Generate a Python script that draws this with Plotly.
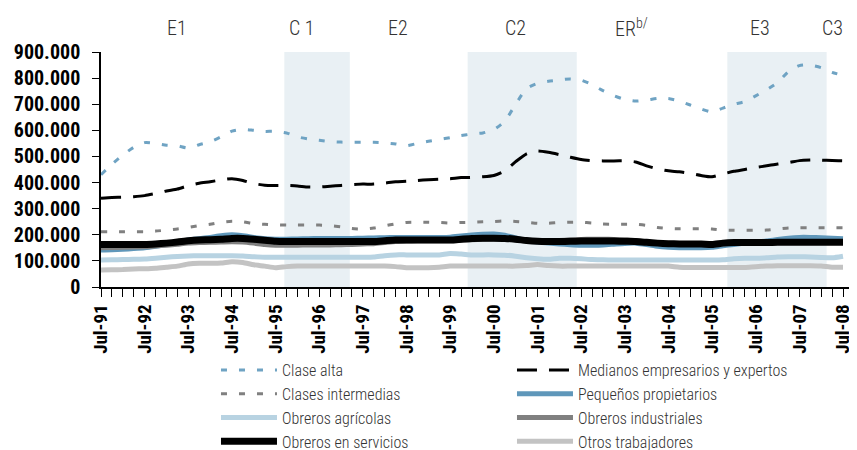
import plotly.graph_objects as go

# Quarterly observations, Jul-91 .. Jul-08 (thousands of persons)
clase_alta = [430, 470, 505, 535, 553, 550, 543, 541, 532, 545, 556, 575, 597, 604, 600, 596,
              596, 590, 575, 567, 562, 557, 555, 554, 554, 554, 552, 548, 541, 550, 558, 565,
              572, 580, 586, 590, 603, 635, 700, 760, 780, 788, 793, 797, 792, 775, 752, 733,
              718, 712, 716, 722, 722, 712, 697, 682, 670, 685, 700, 710, 732, 755, 783, 825,
              848, 850, 840, 822, 810]
medianos = [340, 343, 344, 346, 350, 358, 368, 375, 388, 397, 403, 410, 415, 408, 396, 390,
            389, 389, 387, 383, 383, 386, 389, 392, 394, 394, 398, 403, 405, 408, 411, 413,
            415, 419, 420, 422, 427, 445, 480, 510, 521, 516, 507, 497, 488, 484, 483, 483,
            483, 479, 464, 452, 445, 441, 435, 427, 422, 433, 443, 450, 458, 464, 471, 476,
            484, 486, 486, 484, 483]
intermedias = [212, 212, 212, 212, 212, 214, 218, 222, 228, 235, 240, 248, 252, 250, 243, 240,
               238, 237, 237, 237, 237, 235, 230, 224, 222, 226, 234, 242, 247, 248, 248, 247,
               245, 247, 248, 250, 251, 253, 251, 248, 244, 244, 247, 248, 248, 245, 241, 240,
               240, 240, 236, 228, 224, 223, 223, 223, 222, 218, 217, 217, 217, 218, 222, 226,
               227, 227, 227, 227, 227]
pequenos = [142, 143, 145, 147, 150, 156, 163, 172, 180, 185, 190, 196, 200, 196, 190, 185,
            183, 183, 184, 185, 186, 186, 186, 186, 187, 188, 189, 190, 190, 190, 190, 190,
            191, 195, 199, 202, 203, 198, 188, 178, 172, 168, 165, 162, 160, 160, 161, 164,
            167, 168, 163, 156, 152, 150, 150, 150, 152, 158, 163, 168, 172, 176, 182, 187,
            190, 190, 189, 187, 185]
agricolas = [103, 104, 105, 106, 107, 110, 114, 117, 119, 120, 120, 120, 120, 119, 116, 114,
             114, 114, 114, 114, 114, 114, 114, 114, 114, 115, 120, 123, 123, 123, 123, 123,
             128, 126, 123, 123, 123, 122, 118, 112, 108, 106, 110, 110, 108, 105, 104, 103,
             103, 103, 103, 103, 103, 103, 103, 103, 103, 104, 108, 110, 110, 112, 115, 116,
             116, 115, 113, 112, 118]
industriales = [150, 151, 152, 153, 154, 157, 160, 164, 168, 170, 171, 172, 173, 172, 168, 163,
                160, 160, 160, 161, 161, 161, 162, 163, 165, 166, 170, 174, 176, 177, 177, 177,
                177, 179, 181, 183, 184, 183, 180, 177, 176, 177, 178, 180, 182, 183, 183, 182,
                180, 178, 172, 167, 164, 163, 163, 163, 161, 166, 168, 169, 169, 169, 170, 170,
                170, 170, 170, 170, 170]
servicios = [163, 163, 163, 163, 163, 165, 168, 172, 177, 180, 181, 183, 186, 186, 183, 179,
             175, 174, 174, 174, 174, 174, 174, 174, 174, 174, 177, 180, 180, 180, 180, 180,
             180, 183, 186, 187, 187, 186, 183, 178, 175, 174, 174, 175, 176, 176, 176, 176,
             175, 174, 171, 168, 166, 165, 165, 165, 163, 168, 170, 170, 170, 170, 171, 171,
             171, 171, 171, 171, 171]
otros = [65, 66, 67, 69, 70, 72, 76, 80, 88, 91, 91, 92, 97, 94, 85, 80,
         74, 78, 80, 80, 80, 80, 80, 80, 80, 80, 80, 78, 74, 74, 74, 76,
         80, 80, 80, 80, 80, 80, 80, 82, 86, 82, 80, 80, 80, 80, 80, 80,
         80, 80, 80, 80, 80, 76, 75, 75, 75, 75, 75, 75, 78, 80, 81, 81,
         81, 81, 80, 76, 76]

year_labels = ["Jul-91", "Jul-92", "Jul-93", "Jul-94", "Jul-95", "Jul-96", "Jul-97", "Jul-98",
               "Jul-99", "Jul-00", "Jul-01", "Jul-02", "Jul-03", "Jul-04", "Jul-05", "Jul-06",
               "Jul-07", "Jul-08"]
period_labels = ["E1", "C 1", "E2", "C2", "ER<sup>b/</sup>", "E3", "C3"]

FONT = "Roboto Condensed, DejaVu Sans Condensed, sans-serif"
quarters = list(range(len(clase_alta)))

series = [
    ("Clase alta", clase_alta, dict(color="#6fa3c3", width=3, dash="6px,12px")),
    ("Medianos empresarios y expertos", medianos, dict(color="#000000", width=3, dash="20px,12px")),
    ("Clases intermedias", intermedias, dict(color="#808080", width=3, dash="6px,12px")),
    ("Pequeños propietarios", pequenos, dict(color="#5f97ba", width=5)),
    ("Obreros agrícolas", agricolas, dict(color="#b8d3e2", width=5)),
    ("Obreros industriales", industriales, dict(color="#808080", width=5)),
    ("Obreros en servicios", servicios, dict(color="#000000", width=7)),
    ("Otros trabajadores", otros, dict(color="#c3c3c3", width=5)),
]

fig = go.Figure()
for name, vals, line in series:
    fig.add_trace(go.Scatter(
        x=quarters, y=[v * 1000 for v in vals], mode="lines", name=name,
        line=dict(shape="spline", smoothing=0.6, **line),
    ))

# shaded crisis periods
for x0, x1 in [(16.8, 22.8), (33.6, 43.6), (57.4, 66.5)]:
    fig.add_shape(type="rect", xref="x", yref="y", x0=x0, x1=x1, y0=0, y1=900000,
                  fillcolor="#e9f0f4", line_width=0, layer="below")

for lab, xp in zip(period_labels, [7.0, 18.4, 27.2, 38.0, 48.6, 60.4, 67.0]):
    fig.add_annotation(x=xp, xref="x", y=1, yref="paper", yshift=24, yanchor="middle",
                       text=lab, showarrow=False,
                       font=dict(family=FONT, size=20, color="#333333", weight=300))

# page body has an 8px margin: figure is 849x442 so it ends at the window edge
fig.update_layout(
    width=849, height=442,
    margin=dict(l=93, r=2, t=44, b=163, autoexpand=False),
    paper_bgcolor="white", plot_bgcolor="white",
    separators=",.",
    showlegend=True,
    legend=dict(orientation="h", x=0.1525, xanchor="left", y=-0.281, yanchor="top",
                entrywidth=225, tracegroupgap=0, itemwidth=56,
                font=dict(family=FONT, size=16, color="#333333", weight=300),
                bgcolor="rgba(0,0,0,0)"),
    xaxis=dict(range=[0, 69.1], showgrid=False, zeroline=False, showline=True,
               linecolor="black", linewidth=1.5, automargin=False,
               tickmode="array", tickvals=[4 * i for i in range(len(year_labels))],
               ticktext=year_labels, ticks="outside", ticklen=8, tickcolor="black",
               tickangle=-90,
               tickfont=dict(family=FONT, size=19, color="black", weight="bold"),
               minor=dict(dtick=1, tick0=0, ticks="outside", ticklen=8, tickcolor="black")),
    yaxis=dict(range=[0, 900000], dtick=100000, tickformat=",d", showgrid=False,
               zeroline=False, showline=True, linecolor="black", linewidth=1.5,
               automargin=False, ticklabelstandoff=8,
               ticks="outside", ticklen=7, tickcolor="black",
               tickfont=dict(family=FONT, size=20, color="black", weight="bold")),
)

fig.write_html("out.html")
